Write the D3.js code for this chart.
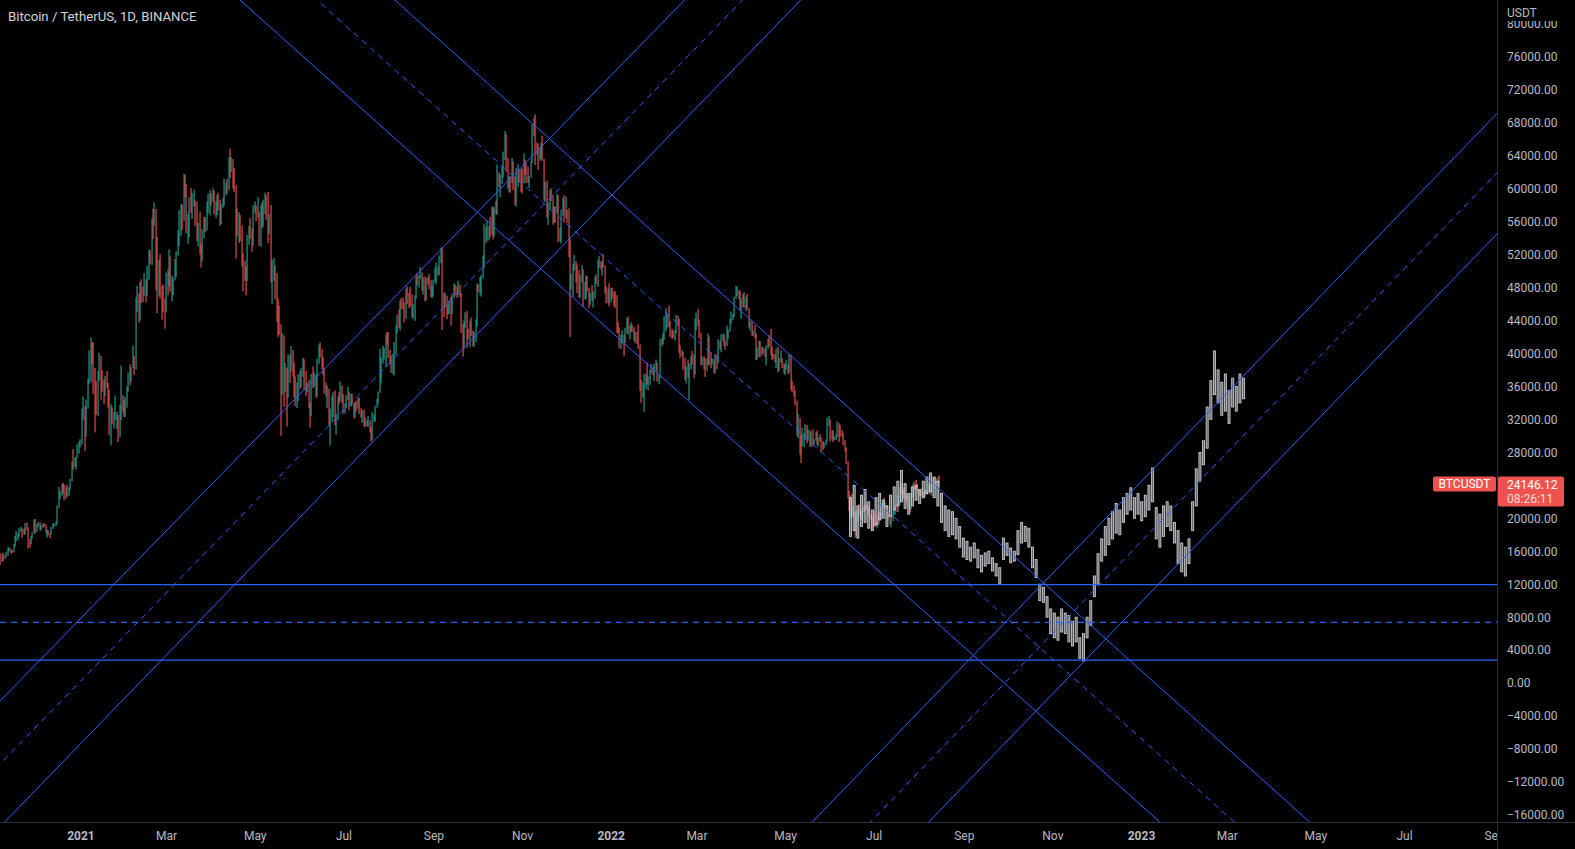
<!DOCTYPE html>
<html><head><meta charset="utf-8">
<script src="https://cdn.jsdelivr.net/npm/d3@7"></script>
<style>html,body{margin:0;padding:0;background:#000;overflow:hidden}svg{display:block}</style>
</head><body>
<script>
// ---------- DATA (prices in thousands of USDT) ----------
const title = "Bitcoin / TetherUS, 1D, BINANCE";
const symbol = "BTCUSDT";
const countdown = "08:26:11";
const startDate = "2020-11-06";
const firstOpen = 15.59;
const closes = [
15.58,14.83,15.48,15.33,15.31,15.70,16.28,16.32,16.07,15.96,16.72,17.66,17.80,17.82,18.66,18.70,18.42,18.37,19.16,18.72,17.15,17.14,17.72,18.18,19.70,
18.76,19.20,19.42,18.65,19.15,19.36,19.17,18.32,18.55,18.25,18.04,18.80,19.14,19.27,19.43,21.35,22.80,23.11,23.82,23.46,22.72,23.81,23.24,23.72,24.69,26.49,26.27,27.04,27.36,28.87,28.92,
29.33,32.18,33.00,31.99,33.95,36.77,39.37,40.67,40.24,38.24,35.54,33.91,37.33,39.14,36.77,36.01,35.79,36.63,36.00,35.47,30.83,33.01,32.08,32.26,32.47,32.53,30.41,33.47,34.32,34.30,33.11,
33.52,35.51,37.67,36.92,38.29,39.24,38.83,46.37,46.50,44.84,47.97,47.41,47.19,48.58,47.91,49.13,52.12,51.55,55.91,55.84,57.41,54.09,48.89,49.68,47.00,46.28,46.11,45.14,
49.59,48.44,50.35,48.37,48.75,48.88,50.97,52.38,54.88,55.85,57.77,57.22,61.19,58.97,55.61,56.90,58.91,57.65,58.03,58.10,57.35,54.08,54.34,52.30,51.29,55.03,55.82,55.78,57.63,58.73,58.74,
58.72,58.96,57.07,58.20,59.12,57.99,56.00,58.09,58.09,59.77,59.96,59.83,63.58,62.96,63.21,61.33,60.04,56.25,55.72,56.47,53.83,51.69,51.20,50.10,49.07,54.03,55.04,54.88,53.58,57.75,
57.83,56.63,57.21,53.24,57.47,56.43,57.34,58.82,58.28,55.84,56.70,49.15,49.72,49.88,46.76,46.43,43.54,42.91,36.96,40.60,37.28,37.53,34.77,38.84,38.35,39.30,38.42,35.69,34.61,35.66,37.29,
36.69,37.57,39.19,36.86,35.52,35.80,33.55,33.38,37.39,36.69,37.31,35.55,39.02,40.52,40.14,38.35,38.09,35.82,35.48,35.60,31.68,32.51,33.68,34.66,31.64,32.24,34.65,34.46,35.87,35.04,
33.57,33.80,34.67,35.29,33.69,34.23,33.88,32.88,33.82,33.52,34.26,33.09,32.73,32.82,31.88,31.38,31.52,31.78,30.84,29.79,32.11,32.30,33.58,34.28,35.40,37.26,39.46,39.99,40.02,42.21,41.46,
39.85,39.15,38.21,39.72,40.87,42.84,44.61,43.81,46.29,45.60,45.55,44.43,47.83,47.10,47.02,45.94,44.69,44.71,46.76,49.34,48.87,49.29,49.55,47.71,48.97,46.94,49.06,48.90,48.81,46.99,47.13,
48.85,49.28,49.99,49.92,51.79,52.70,46.86,46.05,46.40,44.85,45.17,46.03,44.95,47.11,48.12,47.75,47.30,48.31,47.26,42.84,40.69,43.58,44.90,42.84,42.70,43.21,42.19,41.03,41.52,43.82,
48.14,47.66,48.23,49.25,51.49,55.34,53.80,53.97,54.96,54.66,57.47,56.01,57.37,57.35,61.67,60.88,61.53,62.01,64.28,66.00,62.19,60.69,61.29,60.85,63.08,60.33,58.46,60.59,62.25,61.86,61.30,
61.00,63.23,62.94,61.44,61.01,61.53,63.33,67.57,66.95,64.88,64.82,64.16,64.40,65.50,63.56,60.10,60.36,56.94,58.12,59.70,58.72,56.29,57.57,57.18,58.95,53.73,54.72,57.27,57.81,56.95,
57.18,56.48,53.60,49.15,49.40,50.44,50.59,50.47,47.55,47.14,49.39,50.08,46.70,48.34,48.86,47.63,46.13,46.83,46.68,46.91,48.94,48.63,50.82,50.84,50.43,50.81,50.68,47.54,46.46,47.12,46.22,
47.72,47.29,46.43,45.83,43.45,43.08,41.55,41.67,41.86,41.82,42.74,43.92,42.59,43.10,43.18,43.11,42.25,42.38,41.68,40.70,36.47,35.08,36.28,36.69,36.98,36.83,37.20,37.73,38.17,37.92,38.48,
38.74,36.95,37.31,41.57,41.38,42.41,43.84,44.04,44.38,43.57,42.41,42.24,42.05,42.54,44.54,43.87,40.52,40.00,40.12,38.43,37.02,38.25,37.27,38.33,39.21,39.11,37.70,43.19,
44.42,43.92,42.45,39.15,39.40,38.42,38.06,38.74,41.94,39.42,38.73,38.81,37.78,39.67,39.28,41.11,40.92,41.76,42.20,41.26,41.00,42.36,42.89,43.96,44.35,44.50,46.82,47.13,47.43,47.07,45.54,
46.28,45.81,46.41,46.58,45.50,43.17,43.44,42.25,42.75,42.16,39.53,40.07,41.15,39.94,40.55,40.38,39.68,40.80,41.49,41.36,40.48,39.71,39.47,39.45,40.43,38.11,39.24,39.74,38.60,37.63,
38.47,38.53,37.72,39.69,36.55,36.01,35.47,34.04,30.08,31.01,29.08,28.94,29.29,30.08,31.33,29.86,30.43,28.72,30.31,29.20,29.43,30.32,29.10,29.65,29.54,29.20,28.63,29.03,29.47,31.73,31.80,
29.80,30.45,29.70,29.86,29.91,31.37,31.13,30.20,30.11,29.09,28.42,26.57,22.49,22.14,22.58,20.38,20.47,19.02,20.55,20.72,20.71,19.99,21.11,21.23,21.50,21.03,20.73,20.25,20.10,19.94,
19.30,19.25,19.31,20.23,20.18,20.55,21.62,21.59,21.59,20.86,19.96,19.33,20.21,20.59,20.83,21.19,20.79,22.43,23.40,23.22,23.15,22.68,22.45,22.58,21.31,21.25,22.95,23.84,23.77,23.64,23.30,
23.27,22.99,22.82,22.62,23.31,22.95,23.18,23.81,23.15,23.95,23.93,24.40,24.44,24.31,24.14612];
const highs = [
15.96,15.77,15.65,15.84,15.48,15.97,16.48,16.48,16.33,16.15,16.88,17.86,18.48,18.18,18.81,18.97,18.75,18.77,19.42,19.48,18.92,17.46,17.85,18.34,19.86,
19.92,19.31,19.57,19.51,19.18,19.42,19.38,19.29,18.64,18.56,18.27,18.95,19.41,19.35,19.57,21.56,23.80,23.29,24.17,24.30,24.10,23.84,24.10,23.78,24.79,26.87,28.42,27.41,27.38,28.99,29.30,
29.60,33.30,34.78,33.60,34.41,36.94,40.37,41.95,41.38,41.35,38.26,36.63,37.85,40.10,39.70,37.95,36.85,37.30,37.85,36.42,35.60,33.83,33.46,32.94,34.88,32.92,32.56,33.78,38.53,34.93,34.33,
34.72,35.98,37.70,38.71,38.31,40.96,39.72,46.79,48.20,47.31,48.68,48.98,48.10,49.72,49.00,50.60,52.62,52.50,56.37,57.56,58.35,57.53,54.18,51.37,52.04,48.25,48.39,46.60,
49.79,50.20,52.64,51.77,49.45,49.20,51.45,52.40,54.90,57.39,58.15,58.00,61.79,61.68,60.60,56.94,58.97,60.07,59.45,59.88,58.59,58.40,55.84,57.20,53.23,55.08,56.57,56.56,58.41,59.37,59.80,
59.46,60.04,59.75,58.49,59.24,59.48,58.65,58.15,58.90,61.22,60.69,61.20,63.77,64.85,63.82,63.59,62.50,60.41,57.58,57.14,56.80,55.52,52.13,51.25,50.55,54.37,55.48,56.43,55.20,57.96,
58.45,57.94,58.98,57.20,57.96,58.36,58.65,59.50,59.21,59.60,56.90,58.00,51.37,51.57,50.70,49.77,46.64,45.80,43.55,42.46,42.20,38.83,38.27,39.92,39.80,40.90,40.41,38.89,37.24,36.48,37.49,
37.89,38.23,39.48,39.29,37.91,36.48,36.79,34.07,37.53,38.40,37.68,37.45,39.38,41.06,41.33,40.53,39.56,38.20,36.46,36.13,35.75,33.30,34.88,35.30,35.50,32.70,34.75,35.30,36.60,36.10,
35.04,33.94,34.95,35.95,35.30,35.12,35.06,33.92,34.10,34.26,34.60,34.68,33.34,33.11,33.19,32.25,31.94,32.39,31.89,31.04,32.86,32.58,33.65,34.50,35.40,40.55,39.54,40.90,40.64,42.32,42.60,
42.60,40.42,39.78,39.97,41.39,43.39,44.70,45.31,46.45,46.70,46.79,46.22,47.89,48.15,47.37,48.05,47.16,46.00,47.03,49.38,49.76,49.50,50.50,49.85,49.24,49.35,49.17,49.30,49.63,48.91,48.20,
48.95,50.40,51.05,50.56,51.90,52.80,52.92,47.36,47.40,47.03,45.99,46.46,46.88,47.25,48.49,48.35,48.16,48.81,48.37,47.33,43.60,44.00,45.00,45.15,42.97,43.94,44.35,42.79,42.59,44.13,
48.50,48.36,49.30,49.53,51.89,55.75,55.34,56.11,55.49,56.56,57.84,57.68,57.80,58.53,62.93,62.00,61.71,62.69,64.49,67.00,66.64,63.71,61.49,61.50,63.71,63.29,61.50,62.50,62.96,62.30,62.40,
62.44,64.27,63.52,63.09,62.60,61.56,63.35,67.79,68.53,69.00,65.60,65.46,64.97,65.55,66.40,63.62,60.80,60.95,58.35,59.85,60.03,59.27,57.88,57.83,59.40,59.20,55.28,57.45,58.87,59.18,
59.05,57.44,57.60,53.90,49.70,50.88,51.93,51.20,50.80,50.10,49.49,50.72,50.21,48.70,49.48,49.39,47.98,47.35,48.30,47.54,49.33,49.57,51.38,51.81,51.16,51.28,52.09,50.70,48.14,47.88,48.55,
47.95,47.99,47.57,47.51,47.07,43.75,43.15,42.30,42.79,42.25,43.10,44.32,44.46,43.45,43.80,43.47,43.20,42.69,42.58,43.50,41.10,36.84,36.50,37.55,37.55,38.92,37.23,38.00,38.72,38.36,38.74,
39.27,38.86,37.39,41.77,41.91,42.50,44.50,45.49,44.80,45.82,43.92,43.00,42.76,42.88,44.70,44.57,44.19,40.97,40.45,40.17,39.49,38.44,39.24,38.85,39.71,40.30,39.88,44.22,
44.95,45.40,44.10,42.53,39.60,39.65,39.43,39.36,42.40,42.04,40.20,39.36,39.30,39.93,39.86,41.72,41.48,42.32,42.40,42.30,41.55,43.36,42.90,44.20,45.09,44.80,46.90,48.19,48.10,47.70,47.60,
46.72,47.21,47.44,46.89,47.20,45.51,43.90,43.97,42.80,43.41,42.41,40.70,41.56,41.50,40.86,40.71,40.60,40.99,41.76,42.20,42.98,40.80,39.98,39.93,40.61,40.80,39.45,40.37,39.42,38.79,
38.68,39.16,38.65,39.90,39.85,36.68,36.13,35.50,34.30,32.66,32.19,30.14,30.99,30.33,31.41,31.33,30.79,30.67,30.54,30.78,29.60,30.45,30.66,29.82,30.22,29.85,29.38,29.20,29.55,32.22,32.40,
31.98,30.67,30.69,29.95,30.18,31.76,31.55,31.33,30.70,30.38,29.47,28.58,26.90,23.36,22.80,22.97,21.36,20.79,20.82,21.08,21.72,20.86,21.21,21.49,21.62,21.87,21.52,21.18,20.43,20.17,
20.88,19.43,19.65,20.35,20.75,20.67,21.83,22.53,21.95,21.60,20.87,20.05,20.25,20.88,21.20,21.58,21.69,22.78,23.80,24.28,23.43,23.76,22.99,22.98,22.66,21.34,23.10,24.20,24.44,24.67,24.19,
23.50,23.46,23.65,23.22,23.45,23.35,23.39,24.25,23.93,24.23,24.92,24.45,24.89,25.05,25.21];
const lows = [
15.19,14.34,14.70,14.81,15.09,15.28,15.44,15.96,15.71,15.79,15.87,16.56,17.22,17.35,17.74,18.37,17.63,18.00,18.02,18.57,16.33,16.45,16.88,17.52,18.18,
18.11,18.33,18.92,18.56,18.50,18.86,18.90,18.20,17.65,17.91,17.57,18.02,18.71,19.00,19.05,19.29,21.23,22.35,22.75,23.06,22.16,22.35,22.60,22.70,23.43,24.50,25.86,26.22,25.88,27.32,27.85,
28.62,28.95,31.96,28.13,29.90,33.29,36.30,36.50,38.72,35.11,30.42,32.53,32.38,36.70,34.41,35.36,33.85,34.79,35.85,33.40,30.07,28.85,31.39,30.90,31.91,30.84,29.24,29.84,31.92,32.82,32.30,
32.30,33.42,35.36,36.16,36.57,38.22,37.35,38.05,45.03,43.73,44.00,46.13,46.20,47.00,46.20,47.00,48.94,50.90,50.71,53.86,55.48,47.62,44.89,47.00,46.66,44.11,45.00,43.00,
45.00,47.05,48.10,47.50,46.30,47.07,48.86,49.27,51.85,53.02,54.27,55.00,56.08,58.97,54.57,53.27,54.12,57.03,56.27,57.82,55.45,53.65,53.00,52.00,50.43,51.22,53.96,54.69,54.90,57.02,56.77,
57.94,58.40,56.86,56.48,56.79,57.36,55.47,55.70,57.68,57.88,59.21,59.38,59.80,61.30,62.02,60.00,59.58,51.50,54.22,53.40,53.61,50.58,47.50,48.80,47.04,48.80,53.20,53.89,52.33,53.07,
57.05,56.05,56.48,53.05,52.90,55.20,55.37,56.92,56.23,53.40,54.41,48.60,46.00,48.80,46.56,43.82,42.00,42.25,30.00,35.00,33.49,35.26,31.11,34.65,36.42,37.80,37.19,34.68,33.63,33.38,34.21,
35.67,35.92,37.17,35.56,34.80,35.24,33.35,31.00,32.40,35.79,35.93,34.60,34.76,38.73,39.51,38.12,37.37,35.13,34.80,33.34,31.25,28.81,31.68,32.30,31.28,30.15,31.88,33.86,34.22,34.00,
32.71,32.70,33.32,34.36,33.12,33.53,33.77,32.10,32.26,33.00,33.32,32.66,32.20,31.57,31.13,31.02,31.16,31.10,30.41,29.28,29.48,31.71,31.70,33.40,33.85,35.21,36.40,38.77,39.22,38.32,41.05,
39.42,38.69,37.64,37.51,37.33,39.85,42.45,43.09,42.78,45.34,45.35,43.77,44.19,45.98,45.51,45.66,44.38,44.20,43.93,46.63,48.26,48.00,49.04,47.60,47.13,46.32,46.39,48.38,47.78,46.85,46.70,
46.91,48.64,48.38,49.41,49.50,50.97,42.84,44.41,45.51,44.16,44.74,44.76,43.37,44.75,46.72,47.02,46.75,47.07,46.85,42.50,39.60,40.56,43.09,40.68,41.65,40.75,42.10,40.88,40.77,41.41,
43.28,47.44,47.12,46.89,49.07,50.38,53.36,53.66,53.70,54.10,54.42,53.87,54.17,56.82,56.85,60.17,58.96,60.55,61.32,63.48,62.00,60.00,59.55,59.51,60.65,59.82,58.00,57.82,60.17,60.73,59.60,
59.41,60.62,61.70,60.68,60.72,60.06,61.32,63.11,66.33,62.82,64.10,62.28,63.40,63.58,63.36,58.57,58.37,56.47,55.60,57.40,58.50,55.61,55.84,55.84,57.00,53.50,53.61,53.33,56.70,55.88,
56.43,55.83,51.68,42.00,47.73,46.85,50.04,48.60,47.32,46.85,46.70,48.64,45.67,46.55,46.55,47.50,45.50,45.95,46.41,45.56,46.63,48.42,48.07,50.40,50.17,49.42,50.45,47.31,46.10,46.06,45.68,
46.21,46.65,45.70,45.50,42.50,42.43,40.61,40.50,41.20,39.65,41.27,42.45,42.30,41.72,42.58,42.58,41.54,41.25,41.14,40.55,35.44,34.01,34.60,32.92,35.70,36.23,35.51,36.16,37.60,37.35,36.63,
38.00,36.59,36.25,37.00,40.85,41.10,41.65,42.67,43.12,43.20,42.00,41.75,41.87,41.57,42.43,43.31,40.07,39.45,39.64,38.00,36.80,36.35,37.04,34.32,38.01,38.60,37.00,37.45,
42.81,43.33,41.83,38.55,38.60,38.09,37.16,37.85,38.66,38.54,38.22,38.66,37.58,37.55,38.10,38.86,40.50,40.13,41.50,40.91,40.46,40.88,41.73,42.62,43.60,44.05,44.42,46.64,46.95,46.57,45.20,
44.20,45.61,45.52,45.12,45.35,43.12,42.73,42.11,42.12,41.87,39.20,39.25,39.55,39.55,39.76,40.00,39.55,38.54,40.57,40.82,39.75,39.18,39.30,38.90,38.20,37.70,37.88,38.88,38.20,37.58,
37.39,38.05,37.50,37.66,35.57,35.26,34.75,33.71,30.03,29.73,27.70,26.70,28.70,28.63,29.49,29.10,29.46,28.65,28.71,28.74,28.95,29.43,28.90,28.67,29.29,28.02,28.26,28.53,28.84,29.30,31.23,
29.31,29.59,29.26,29.48,29.50,29.86,29.22,29.84,29.94,28.85,28.11,26.56,22.40,20.85,20.08,20.23,20.22,17.62,17.96,19.64,20.35,19.77,19.90,20.74,20.94,20.96,20.50,20.18,19.85,18.63,
18.97,19.00,18.78,19.05,19.30,19.77,20.24,21.18,21.33,20.66,19.88,19.24,18.91,19.62,20.38,20.48,20.76,20.77,21.58,22.91,22.34,22.50,21.95,22.29,21.25,20.71,21.04,22.58,23.40,23.51,23.23,
22.85,22.66,22.68,22.43,22.58,22.93,22.84,23.15,22.86,22.66,23.86,23.60,24.29,24.15,23.77];

// projected bars pattern (high / low, thousands)
const ghostStart = "2022-06-15T05:00Z";
const ghostStepDays = 2.505;
const ghostHigh = [22.5,24.0,21.5,22.8,23.5,22.0,21.0,22.5,23.0,22.2,21.5,22.8,23.8,24.5,25.8,24.2,23.0,23.8,24.0,23.5,24.5,25.0,25.5,25.0,24.5,
23.0,21.5,21.0,20.8,20.0,19.0,17.6,17.2,16.5,17.0,16.2,15.5,15.8,16.0,15.2,14.5,14.0,17.6,17.0,16.4,16.0,18.5,19.5,19.0,18.8,
16.5,15.0,12.0,11.6,10.5,9.0,8.5,8.0,9.0,8.5,8.2,7.5,8.0,5.5,6.0,8.0,10.0,13.0,15.7,17.5,19.0,20.0,20.8,21.8,21.0,22.5,23.0,23.7,22.5,23.0,
22.0,22.8,24.0,26.1,21.3,20.5,21.5,22.0,21.5,19.5,18.5,17.0,16.5,17.5,22.0,26.0,28.0,29.4,33.5,36.7,40.3,38.0,36.5,37.5,35.5,37.0,36.0,37.5,37.0];
const ghostLow = [17.8,18.5,17.6,19.0,19.5,18.8,18.5,19.2,19.8,20.0,19.0,20.2,21.0,21.5,22.0,21.2,20.5,21.5,22.2,21.8,22.5,23.0,23.2,22.5,21.5,
19.5,18.5,17.8,18.0,17.5,16.5,15.3,15.0,14.8,15.2,14.0,13.5,14.2,14.5,13.6,13.0,12.1,15.0,15.5,14.6,14.8,15.6,17.0,17.2,16.5,
14.0,12.8,10.0,9.8,8.0,6.0,5.5,5.2,6.2,6.0,5.0,4.5,5.0,3.0,2.7,5.5,7.0,10.5,12.0,14.8,15.5,16.8,17.5,18.2,18.0,19.5,20.5,21.0,20.0,20.5,
19.7,20.2,21.0,22.0,17.5,16.5,17.8,19.0,18.5,17.0,14.5,13.5,13.0,14.5,18.5,21.5,24.5,26.5,28.5,32.0,35.0,34.0,32.5,33.0,31.5,33.5,33.0,34.0,34.5];

// drawn trend lines: two anchor points [ISO time, price USDT]
const solidLines = [
  [["2022-04-20T14:00Z", 41993], ["2023-04-24T10:00Z", -16437]],
  [["2021-04-20T20:00Z", 82879], ["2023-01-11T07:00Z", -16437]],
  [["2020-11-06T16:00Z", -2169], ["2022-02-20T22:00Z", 82879]],
  [["2020-11-06T16:00Z", -17444], ["2022-05-11T19:00Z", 82879]],
  [["2022-05-22T00:00Z", -16437], ["2023-09-03T00:00Z", 69109]],
  [["2022-08-10T05:00Z", -16437], ["2023-09-03T00:00Z", 54489]]
];
const dashedLines = [
  [["2021-06-12T20:00Z", 82879], ["2023-03-03T14:00Z", -16437]],
  [["2020-11-06T16:00Z", -9812], ["2022-04-01T19:00Z", 82879]],
  [["2022-07-01T03:00Z", -16437], ["2023-09-03T00:00Z", 61914]]
];
const hSolid = [11950, 2800];
const hDashed = [7380];

const priceTicks = d3.range(-16000, 80001, 4000);
const timeTicks = ["2021-01-01","2021-03-01","2021-05-01","2021-07-01","2021-09-01","2021-11-01",
 "2022-01-01","2022-03-01","2022-05-01","2022-07-01","2022-09-01","2022-11-01",
 "2023-01-01","2023-03-01","2023-05-01","2023-07-01","2023-09-01"];

// ---------- LAYOUT ----------
const W = 1575, H = 849, PW = 1497, PH = 822;
const FONT = "Roboto, 'Noto Sans', 'DejaVu Sans', sans-serif";
const UP = "#26a69a", DOWN = "#ef5350", LINE = "#2962ff", AXIS = "#2a2e39", TXT = "#b8bbc3";
const parse = d3.utcParse("%Y-%m-%d");
const DAY = 864e5;

const x = d3.scaleUtc().domain([parse("2021-01-01"), parse("2023-01-01")]).range([80.4, 1141.0]);
const y = d3.scaleLinear().domain([-16000, 76000]).range([815, 56.7]);

const svg = d3.select("body").append("svg").attr("width", W).attr("height", H)
  .style("font-family", FONT);
svg.append("rect").attr("width", W).attr("height", H).attr("fill", "#000");
svg.append("clipPath").attr("id", "plot").append("rect").attr("width", PW).attr("height", PH);
const plot = svg.append("g").attr("clip-path", "url(#plot)");

// candles
const t0 = parse(startDate);
const n = Math.min(closes.length, highs.length, lows.length);
const candles = d3.range(n).map(i => ({
  t: new Date(+t0 + i * DAY),
  o: (i ? closes[i - 1] : firstOpen) * 1000,
  c: closes[i] * 1000, h: highs[i] * 1000, l: lows[i] * 1000
}));
plot.append("g").selectAll("rect").data(candles).join("rect")
  .attr("x", d => Math.round(x(d.t)) - 0.5)
  .attr("width", 1.1)
  .attr("y", d => y(d.h))
  .attr("height", d => Math.max(1, y(d.l) - y(d.h)))
  .attr("fill", d => d.c >= d.o ? UP : DOWN);

// ghost bars pattern
const g0 = d3.isoParse(ghostStart);
const ghost = ghostHigh.map((h, i) => ({ t: new Date(+g0 + i * ghostStepDays * DAY), h: h * 1000, l: ghostLow[i] * 1000 }));
const gw = x(new Date(+g0 + ghostStepDays * DAY)) - x(g0);
plot.append("g").selectAll("rect").data(ghost).join("rect")
  .attr("x", d => x(d.t) - gw / 2 + 0.6)
  .attr("width", gw - 1.6)
  .attr("y", d => y(d.h))
  .attr("height", d => y(d.l) - y(d.h))
  .attr("fill", "rgba(175,178,186,0.55)")
  .attr("stroke", "rgba(225,227,232,0.85)")
  .attr("stroke-width", 0.9);

// trend lines (extended across the pane)
function drawLine(pair, dashed) {
  const x1 = x(d3.isoParse(pair[0][0])), y1 = y(pair[0][1]);
  const x2 = x(d3.isoParse(pair[1][0])), y2 = y(pair[1][1]);
  const dx = x2 - x1, dy = y2 - y1, k = 3;
  plot.append("line")
    .attr("x1", x1 - k * dx).attr("y1", y1 - k * dy)
    .attr("x2", x2 + k * dx).attr("y2", y2 + k * dy)
    .attr("stroke", LINE).attr("stroke-width", 1)
    .attr("stroke-dasharray", dashed ? "6,5" : null);
}
solidLines.forEach(p => drawLine(p, false));
dashedLines.forEach(p => drawLine(p, true));
const hl = (v, dashed) => plot.append("line").attr("x1", 0).attr("x2", PW)
  .attr("y1", y(v)).attr("y2", y(v)).attr("stroke", LINE).attr("stroke-width", 1.2)
  .attr("stroke-dasharray", dashed ? "6,5" : null);
hSolid.forEach(v => hl(v, false));
hDashed.forEach(v => hl(v, true));

// title
svg.append("text").attr("x", 8).attr("y", 16.5).attr("dominant-baseline", "central")
  .attr("fill", "#d1d4dc").attr("font-size", 13.2).text(title);

// price axis
const yAxis = svg.append("g").attr("transform", `translate(${PW},0)`)
  .call(d3.axisRight(y).tickValues(priceTicks).tickSize(0).tickPadding(10).tickFormat(d3.format(".2f")));
yAxis.select(".domain").remove();
yAxis.selectAll("text").attr("fill", TXT).attr("font-size", 12).attr("font-family", FONT);

// time axis
const xAxis = svg.append("g").attr("transform", `translate(0,${PH})`)
  .call(d3.axisBottom(x).tickValues(timeTicks.map(parse)).tickSize(0).tickPadding(9)
    .tickFormat(d => d.getUTCMonth() === 0 ? d3.utcFormat("%Y")(d) : d3.utcFormat("%b")(d)));
xAxis.select(".domain").remove();
xAxis.selectAll("text").attr("fill", TXT).attr("font-size", 12).attr("font-family", FONT)
  .attr("font-weight", d => d.getUTCMonth() === 0 ? 700 : 400);
svg.append("rect").attr("x", PW + 0.5).attr("y", PH + 1).attr("width", W - PW).attr("height", H - PH).attr("fill", "#000");

// USDT header
svg.append("rect").attr("x", PW + 1).attr("y", 0).attr("width", W - PW).attr("height", 21).attr("fill", "#000");
svg.append("text").attr("x", 1507).attr("y", 13).attr("dominant-baseline", "central")
  .attr("fill", TXT).attr("font-size", 12).text("USDT");

// separators
svg.append("line").attr("x1", PW + 0.5).attr("x2", PW + 0.5).attr("y1", 0).attr("y2", H).attr("stroke", AXIS);
svg.append("line").attr("x1", 0).attr("x2", W).attr("y1", PH + 0.5).attr("y2", PH + 0.5).attr("stroke", AXIS);

// last price labels
const last = candles[n - 1];
const ly = y(last.c);
svg.append("rect").attr("x", 1433).attr("y", ly - 7.5).attr("width", 63).attr("height", 15).attr("rx", 2).attr("fill", DOWN);
svg.append("text").attr("x", 1464.5).attr("y", ly).attr("dominant-baseline", "central").attr("text-anchor", "middle")
  .attr("fill", "#fff").attr("font-size", 12).text(symbol);
svg.append("rect").attr("x", PW + 1).attr("y", ly - 7.5).attr("width", 66).attr("height", 30).attr("rx", 2).attr("fill", DOWN);
svg.append("text").attr("x", 1507).attr("y", ly + 0.5).attr("dominant-baseline", "central")
  .attr("fill", "#fff").attr("font-size", 12).text(d3.format(".2f")(last.c));
svg.append("text").attr("x", 1507).attr("y", ly + 15).attr("dominant-baseline", "central")
  .attr("fill", "rgba(255,255,255,0.8)").attr("font-size", 12).text(countdown);
</script>
</body></html>
